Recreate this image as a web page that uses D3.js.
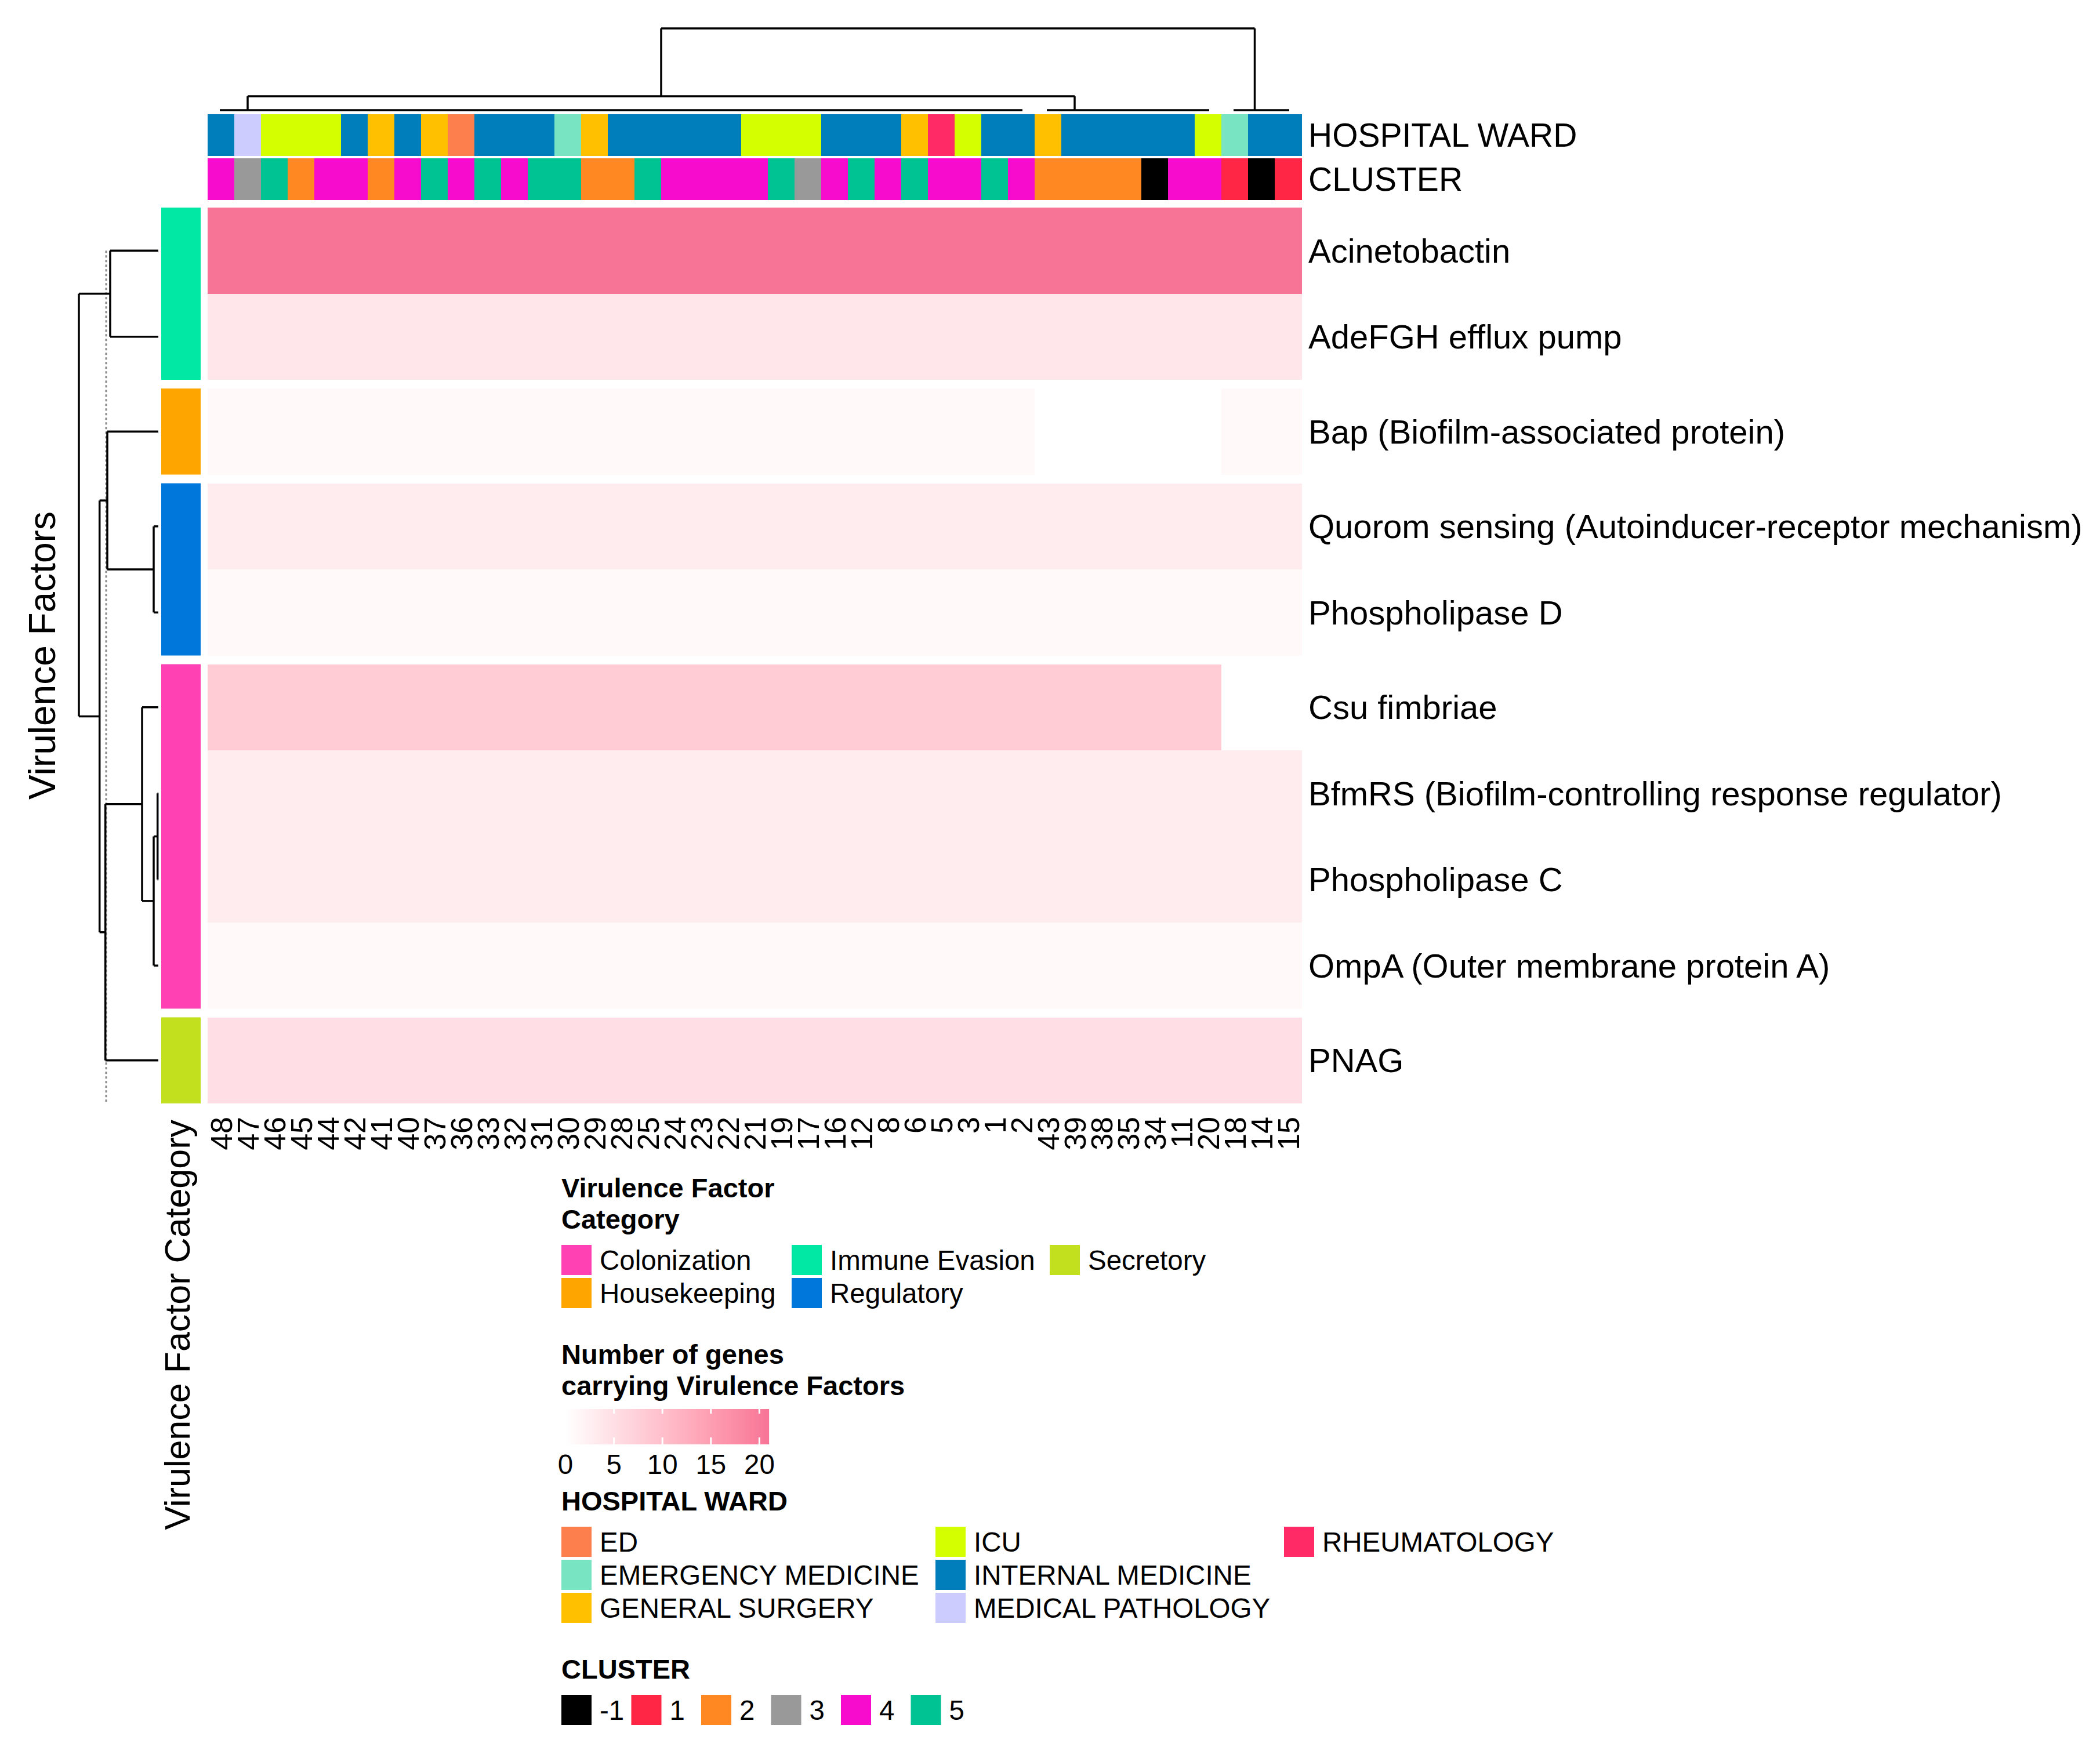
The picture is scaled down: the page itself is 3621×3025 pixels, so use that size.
<!DOCTYPE html>
<html lang="en">
<head>
<meta charset="UTF-8">
<title>Virulence factors heatmap</title>
<script src="https://d3js.org/d3.v7.min.js"></script>
<style>
  html, body { margin: 0; padding: 0; background: #fff; }
  svg { display: block; font-family: "Liberation Sans", Arial, Helvetica, sans-serif; }
</style>
</head>
<body>
<div id="chart"></div>
<script>
// isolates, in the order of the column dendrogram
const isolates = ["48","47","46","45","44","42","41","40","37","36","33","32","31","30","29","28","25","24","23","22","21",
  "19","17","16","12","8","6","5","3","1","2","43","39","38","35","34","11","20","18","14","15"];

const wards = ["INTERNAL MEDICINE","MEDICAL PATHOLOGY","ICU","ICU","ICU","INTERNAL MEDICINE","GENERAL SURGERY",
  "INTERNAL MEDICINE","GENERAL SURGERY","ED","INTERNAL MEDICINE","INTERNAL MEDICINE","INTERNAL MEDICINE",
  "EMERGENCY MEDICINE","GENERAL SURGERY","INTERNAL MEDICINE","INTERNAL MEDICINE","INTERNAL MEDICINE",
  "INTERNAL MEDICINE","INTERNAL MEDICINE","ICU","ICU","ICU","INTERNAL MEDICINE","INTERNAL MEDICINE",
  "INTERNAL MEDICINE","GENERAL SURGERY","RHEUMATOLOGY","ICU","INTERNAL MEDICINE","INTERNAL MEDICINE",
  "GENERAL SURGERY","INTERNAL MEDICINE","INTERNAL MEDICINE","INTERNAL MEDICINE","INTERNAL MEDICINE",
  "INTERNAL MEDICINE","ICU","EMERGENCY MEDICINE","INTERNAL MEDICINE","INTERNAL MEDICINE"];

const clusters = [4,3,5,2,4,4,2,4,5,4,5,4,5,5,2,2,5,4,4,4,4,5,3,4,5,4,5,4,4,5,4,2,2,2,2,-1,4,4,1,-1,1];

// virulence factors (rows) and their category
const factors = ["Acinetobactin","AdeFGH efflux pump","Bap (Biofilm-associated protein)",
  "Quorom sensing (Autoinducer-receptor mechanism)","Phospholipase D","Csu fimbriae",
  "BfmRS (Biofilm-controlling response regulator)","Phospholipase C","OmpA (Outer membrane protein A)","PNAG"];
const factorCategory = ["Immune Evasion","Immune Evasion","Housekeeping","Regulatory","Regulatory",
  "Colonization","Colonization","Colonization","Colonization","Secretory"];

// number of genes carrying each virulence factor, per isolate
const acinetobactin = [21,21,21,21,21,21,21,21,21,21,21,21,21,21,21,21,21,21,21,21,21,21,21,21,21,21,21,21,21,21,21,21,21,21,21,21,21,21,21,21,21];
const adeFGH        = [4,4,4,4,4,4,4,4,4,4,4,4,4,4,4,4,4,4,4,4,4,4,4,4,4,4,4,4,4,4,4,4,4,4,4,4,4,4,4,4,4];
const bap           = [1,1,1,1,1,1,1,1,1,1,1,1,1,1,1,1,1,1,1,1,1,1,1,1,1,1,1,1,1,1,1,0,0,0,0,0,0,0,1,1,1];
const quorum        = [3,3,3,3,3,3,3,3,3,3,3,3,3,3,3,3,3,3,3,3,3,3,3,3,3,3,3,3,3,3,3,3,3,3,3,3,3,3,3,3,3];
const phosD         = [1,1,1,1,1,1,1,1,1,1,1,1,1,1,1,1,1,1,1,1,1,1,1,1,1,1,1,1,1,1,1,1,1,1,1,1,1,1,1,1,1];
const csu           = [8,8,8,8,8,8,8,8,8,8,8,8,8,8,8,8,8,8,8,8,8,8,8,8,8,8,8,8,8,8,8,8,8,8,8,8,8,8,0,0,0];
const bfmRS         = [3,3,3,3,3,3,3,3,3,3,3,3,3,3,3,3,3,3,3,3,3,3,3,3,3,3,3,3,3,3,3,3,3,3,3,3,3,3,3,3,3];
const phosC         = [3,3,3,3,3,3,3,3,3,3,3,3,3,3,3,3,3,3,3,3,3,3,3,3,3,3,3,3,3,3,3,3,3,3,3,3,3,3,3,3,3];
const ompA          = [1,1,1,1,1,1,1,1,1,1,1,1,1,1,1,1,1,1,1,1,1,1,1,1,1,1,1,1,1,1,1,1,1,1,1,1,1,1,1,1,1];
const pnag          = [5,5,5,5,5,5,5,5,5,5,5,5,5,5,5,5,5,5,5,5,5,5,5,5,5,5,5,5,5,5,5,5,5,5,5,5,5,5,5,5,5];
const matrix = [acinetobactin, adeFGH, bap, quorum, phosD, csu, bfmRS, phosC, ompA, pnag];

const legendTicks = [0, 5, 10, 15, 20];
const valueMax = 21;

// row dendrogram (leaf = row index, h = merge height)
const rowDendro = { h: 1.37, children: [
  { h: 0.83, children: [0, 1] },
  { h: 1.013, children: [
    { h: 0.88, children: [2, { h: 0.08, children: [3, 4] }] },
    { h: 0.913, children: [
      { h: 0.28, children: [5, { h: 0.08, children: [{ h: 0.013, children: [6, 7] }, 8] }] },
      9 ] } ] } ] };
const rowCutHeight = 0.9;

// column dendrogram (leaf groups of identical profiles)
const colDendro = { h: 1, children: [
  { h: 0.17, children: [
    { h: 0, from: 0, to: 30, anchor: 1 },
    { h: 0, from: 31, to: 37, anchor: 32 } ] },
  { h: 0, from: 38, to: 40, anchor: 38.75 } ] };

const wardColor = {
  "ED": "#FC7F4D", "EMERGENCY MEDICINE": "#79E4C1", "GENERAL SURGERY": "#FFC000",
  "ICU": "#D4FF00", "INTERNAL MEDICINE": "#007DBB", "MEDICAL PATHOLOGY": "#CCCCFF", "RHEUMATOLOGY": "#FF2A66"
};
const clusterColor = { "-1": "#000000", "1": "#FF2645", "2": "#FF8822", "3": "#999999", "4": "#F70CCE", "5": "#00C393" };
const categoryColor = {
  "Colonization": "#FF41B3", "Housekeeping": "#FFA500", "Immune Evasion": "#00E8A3",
  "Regulatory": "#0077DA", "Secretory": "#C2E01D"
};

const W = 3621, H = 3025;
const svg = d3.select("#chart").append("svg").attr("width", W).attr("height", H);
svg.append("rect").attr("width", W).attr("height", H).attr("fill", "#fff");

// layout
const heatLeft = 358, heatRight = 2244, heatTop = 358, rowH = 148.5, groupGap = 15;
const x = d3.scaleBand().domain(d3.range(isolates.length)).range([heatLeft, heatRight]);
const colCenter = d3.scaleLinear().domain([0, isolates.length - 1])
  .range([x(0) + x.bandwidth() / 2, x(isolates.length - 1) + x.bandwidth() / 2]);

const groupOf = [];
factorCategory.forEach((c, i) => groupOf.push(i === 0 ? 0 : groupOf[i - 1] + (c !== factorCategory[i - 1] ? 1 : 0)));
const yRow = d3.scaleLinear().domain([0, factors.length]).range([heatTop, heatTop + factors.length * rowH]);
const rowTop = i => yRow(i) + groupOf[i] * groupGap;
const rowMid = i => rowTop(i) + rowH / 2;
const heatBottom = rowTop(factors.length - 1) + rowH;

const color = d3.scaleLinear().domain([0, valueMax]).range(["#ffffff", "#F77496"]).interpolate(d3.interpolateLab);

// heatmap cells
const cells = [];
matrix.forEach((row, r) => row.forEach((v, c) => cells.push({ r, c, v })));
svg.append("g").selectAll("rect").data(cells).join("rect")
  .attr("x", d => x(d.c)).attr("y", d => rowTop(d.r))
  .attr("width", x.bandwidth() + 0.5).attr("height", rowH)
  .attr("fill", d => color(d.v)).attr("shape-rendering", "crispEdges");

// top annotations
const wardY = 197, annH = 71.5, clusterY = 273;
svg.append("g").selectAll("rect").data(wards).join("rect")
  .attr("x", (d, i) => x(i)).attr("y", wardY).attr("width", x.bandwidth() + 0.5).attr("height", annH)
  .attr("fill", d => wardColor[d]).attr("shape-rendering", "crispEdges");
svg.append("g").selectAll("rect").data(clusters).join("rect")
  .attr("x", (d, i) => x(i)).attr("y", clusterY).attr("width", x.bandwidth() + 0.5).attr("height", annH)
  .attr("fill", d => clusterColor[d]).attr("shape-rendering", "crispEdges");

// left category annotation (one block per split)
const groups = d3.groups(factorCategory.map((c, i) => ({ c, i })), d => groupOf[d.i]);
svg.append("g").selectAll("rect").data(groups).join("rect")
  .attr("x", 278).attr("width", 68)
  .attr("y", d => rowTop(d[1][0].i))
  .attr("height", d => rowTop(d[1][d[1].length - 1].i) + rowH - rowTop(d[1][0].i))
  .attr("fill", d => categoryColor[d[1][0].c]);

// right labels
const labelX = 2256, labelFont = 58;
svg.append("g").selectAll("text").data(factors).join("text")
  .attr("x", labelX).attr("y", (d, i) => rowMid(i)).attr("dy", "0.35em")
  .attr("font-size", labelFont).text(d => d);
svg.append("text").attr("x", labelX).attr("y", wardY + annH / 2).attr("dy", "0.35em")
  .attr("font-size", 57).text("HOSPITAL WARD");
svg.append("text").attr("x", labelX).attr("y", clusterY + annH / 2).attr("dy", "0.35em")
  .attr("font-size", 57).text("CLUSTER");

// column labels
const colFont = 52;
svg.append("g").selectAll("text").data(isolates).join("text")
  .attr("transform", (d, i) => `translate(${colCenter(i) + colFont * 0.36},${heatBottom + 23}) rotate(-90)`)
  .attr("text-anchor", "end").attr("font-size", colFont).text(d => d);

// axis titles
svg.append("text").attr("transform", `translate(95,${(heatTop + heatBottom) / 2}) rotate(-90)`)
  .attr("text-anchor", "middle").attr("font-size", 64).text("Virulence Factors");
svg.append("text").attr("transform", `translate(327,${heatBottom + 28}) rotate(-90)`)
  .attr("text-anchor", "end").attr("font-size", 61).text("Virulence Factor Category");

// row dendrogram
const dendX = d3.scaleLinear().domain([0, rowDendro.h]).range([273, 136]);
const rroot = d3.hierarchy(rowDendro, d => (typeof d === "object" ? d.children : null));
rroot.eachAfter(n => {
  n.h = typeof n.data === "object" ? n.data.h : 0;
  n.py = n.children ? d3.mean([n.children[0].py, n.children[n.children.length - 1].py]) : rowMid(n.data);
});
const rowDend = svg.append("g").attr("stroke", "#000").attr("stroke-width", 3.5).attr("fill", "none");
svg.insert("line", "g")
  .attr("x1", dendX(rowCutHeight)).attr("x2", dendX(rowCutHeight))
  .attr("y1", rowMid(0)).attr("y2", heatBottom)
  .attr("stroke", "#8a8a8a").attr("stroke-width", 3).attr("stroke-dasharray", "4,4");
rroot.descendants().filter(n => n.children).forEach(n => {
  const a = n.children[0], b = n.children[n.children.length - 1];
  rowDend.append("line").attr("x1", dendX(n.h)).attr("x2", dendX(n.h)).attr("y1", a.py).attr("y2", b.py);
  n.children.forEach(ch => rowDend.append("line")
    .attr("x1", dendX(n.h)).attr("x2", dendX(ch.h)).attr("y1", ch.py).attr("y2", ch.py));
});

// column dendrogram
const dendY = d3.scaleLinear().domain([0, colDendro.h]).range([190, 49]);
const croot = d3.hierarchy(colDendro);
croot.eachAfter(n => {
  n.px = n.children ? d3.mean([n.children[0].px, n.children[n.children.length - 1].px]) : colCenter(n.data.anchor);
});
const colDend = svg.append("g").attr("stroke", "#000").attr("stroke-width", 3.5).attr("fill", "none");
croot.descendants().forEach(n => {
  if (n.children) {
    const a = n.children[0], b = n.children[n.children.length - 1];
    colDend.append("line").attr("x1", a.px).attr("x2", b.px).attr("y1", dendY(n.data.h)).attr("y2", dendY(n.data.h));
    n.children.forEach(ch => colDend.append("line")
      .attr("x1", ch.px).attr("x2", ch.px).attr("y1", dendY(n.data.h)).attr("y2", dendY(ch.data.h)));
  } else {
    colDend.append("line").attr("x1", colCenter(n.data.from) - 2).attr("x2", colCenter(n.data.to) + 2)
      .attr("y1", dendY(0)).attr("y2", dendY(0));
  }
});

// ---- legends ----
const legX = 968, sw = 52, pitch = 57, txtOff = 66, legFont = 47.5, titleFont = 47;
function title(lines, baseline) {
  lines.forEach((t, i) => svg.append("text").attr("x", legX).attr("y", baseline + i * 54)
    .attr("font-size", titleFont).attr("font-weight", "bold").text(t));
}
function swatches(items, colorOf, nrow, colXs, top) {
  const g = svg.append("g");
  items.forEach((it, k) => {
    const cx = colXs[Math.floor(k / nrow)], cy = top + (k % nrow) * pitch;
    g.append("rect").attr("x", cx).attr("y", cy).attr("width", sw).attr("height", sw).attr("fill", colorOf(it));
    g.append("text").attr("x", cx + txtOff).attr("y", cy + sw / 2).attr("dy", "0.36em")
      .attr("font-size", legFont).text(it);
  });
}

title(["Virulence Factor", "Category"], 2065);
swatches(Object.keys(categoryColor), d => categoryColor[d], 2, [968, 1365, 1810], 2147);

title(["Number of genes", "carrying Virulence Factors"], 2352);
const barX = d3.scaleLinear().domain([0, valueMax]).range([975, 975 + 16.72 * valueMax]);
const grad = svg.append("defs").append("linearGradient").attr("id", "vgrad");
d3.range(0, 1.0001, 0.1).forEach(t => grad.append("stop")
  .attr("offset", t).attr("stop-color", color(t * valueMax)));
const barTop = 2430, barH = 61;
svg.append("rect").attr("x", barX(0)).attr("y", barTop).attr("width", barX(valueMax) - barX(0))
  .attr("height", barH).attr("fill", "url(#vgrad)");
const tk = svg.append("g");
legendTicks.filter(t => t > 0).forEach(t => {
  tk.append("line").attr("x1", barX(t)).attr("x2", barX(t)).attr("y1", barTop).attr("y2", barTop + 8)
    .attr("stroke", "#fff").attr("stroke-width", 3);
  tk.append("line").attr("x1", barX(t)).attr("x2", barX(t)).attr("y1", barTop + barH - 12).attr("y2", barTop + barH)
    .attr("stroke", "#fff").attr("stroke-width", 3);
});
legendTicks.forEach(t => tk.append("text").attr("x", barX(t)).attr("y", 2542)
  .attr("text-anchor", "middle").attr("font-size", legFont).text(t));

title(["HOSPITAL WARD"], 2605);
swatches(Object.keys(wardColor), d => wardColor[d], 3, [968, 1613, 2214], 2633);

title(["CLUSTER"], 2895);
const clusterKeys = ["-1", "1", "2", "3", "4", "5"];
swatches(clusterKeys, d => clusterColor[d], 1, clusterKeys.map((d, i) => 968 + i * 120.5), 2923);
</script>
</body>
</html>
